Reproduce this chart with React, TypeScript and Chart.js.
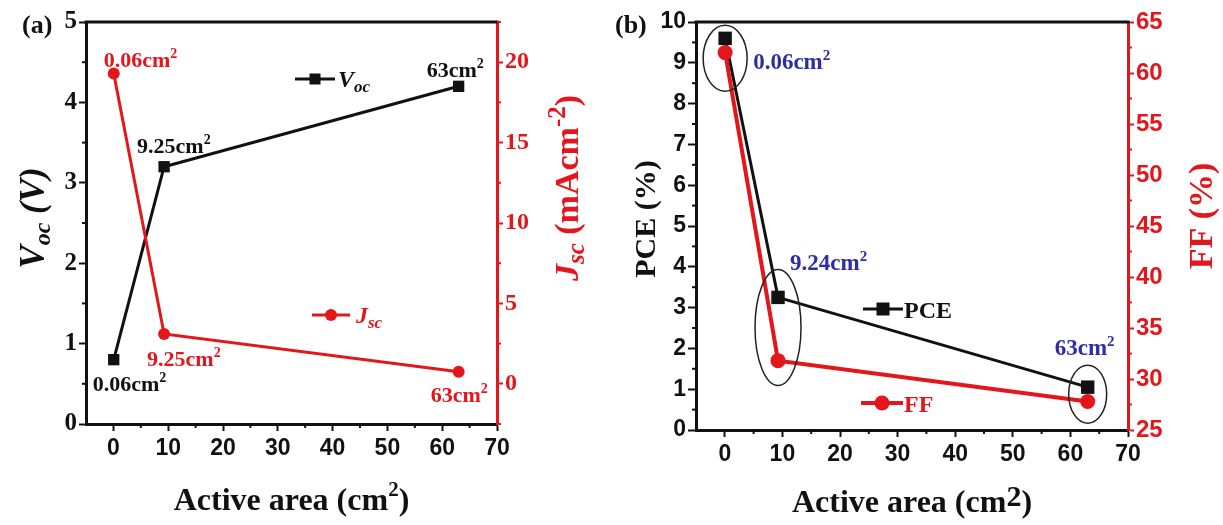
import React, { useEffect, useRef } from "react";
import { Chart, registerables } from "chart.js";
Chart.register(...registerables);

// ---------- data ----------
const areaA = [0.06, 9.25, 63];
const vocValues = [0.8, 3.2, 4.2];
const jscValues = [19.3, 3.1, 0.75];
const areaLabelsA = ["0.06", "9.25", "63"];

const areaB = [0.06, 9.24, 63];
const pceValues = [9.6, 3.25, 1.05];
const ffValues = [62, 31.8, 27.8];
const areaLabelsB = ["0.06", "9.24", "63"];

const xTickValues = [0, 10, 20, 30, 40, 50, 60, 70];
const xMinorValues = [5, 15, 25, 35, 45, 55, 65];
const vocTicks = [0, 1, 2, 3, 4, 5];
const vocMinor = [0.5, 1.5, 2.5, 3.5, 4.5];
const jscTicks = [0, 5, 10, 15, 20];
const jscMinor = [-2.5, 2.5, 7.5, 12.5, 17.5, 22.5];
const pceTicks = [0, 1, 2, 3, 4, 5, 6, 7, 8, 9, 10];
const pceMinor = [0.5, 1.5, 2.5, 3.5, 4.5, 5.5, 6.5, 7.5, 8.5, 9.5];
const ffTicks = [25, 30, 35, 40, 45, 50, 55, 60, 65];
const ffMinor = [27.5, 32.5, 37.5, 42.5, 47.5, 52.5, 57.5, 62.5];

// ---------- styles ----------
const BLACK = "#111111";
const RED = "#e3161c";
const BLUE = "#2d2da8";
const SERIF = '"Liberation Serif", "Times New Roman", serif';
const SANS = '"Liberation Sans", Arial, sans-serif';

type Seg = { t: string; size: number; style?: string; weight?: string; dy?: number; family?: string };

function drawRich(ctx: CanvasRenderingContext2D, segs: Seg[], x: number, y: number, align: string, color: string, rot = 0) {
  ctx.save();
  ctx.translate(x, y);
  if (rot) ctx.rotate(rot);
  ctx.fillStyle = color;
  ctx.textBaseline = "alphabetic";
  ctx.textAlign = "left";
  const fonts = segs.map((s) => `${s.style || "normal"} ${s.weight || "bold"} ${s.size}px ${s.family || SERIF}`);
  let total = 0;
  const widths = segs.map((s, i) => {
    ctx.font = fonts[i];
    const w = ctx.measureText(s.t).width;
    total += w;
    return w;
  });
  let cx = align === "left" ? 0 : align === "center" ? -total / 2 : -total;
  segs.forEach((s, i) => {
    ctx.font = fonts[i];
    ctx.fillText(s.t, cx, s.dy || 0);
    cx += widths[i];
  });
  ctx.restore();
}

function seg(ctx: CanvasRenderingContext2D, x1: number, y1: number, x2: number, y2: number, color: string, w: number) {
  ctx.save();
  ctx.strokeStyle = color;
  ctx.lineWidth = w;
  ctx.beginPath();
  ctx.moveTo(x1, y1);
  ctx.lineTo(x2, y2);
  ctx.stroke();
  ctx.restore();
}

function marker(ctx: CanvasRenderingContext2D, style: string, x: number, y: number, size: number, color: string) {
  ctx.save();
  ctx.fillStyle = color;
  if (style === "rect") {
    ctx.fillRect(x - size / 2, y - size / 2, size, size);
  } else {
    ctx.beginPath();
    ctx.arc(x, y, size / 2, 0, Math.PI * 2);
    ctx.fill();
  }
  ctx.restore();
}

function minor(ctx: CanvasRenderingContext2D, chart: any, id: string, values: number[], side: string, color: string) {
  const s = chart.scales[id];
  const a = chart.chartArea;
  values.forEach((v) => {
    const p = s.getPixelForValue(v);
    if (side === "bottom") seg(ctx, p, a.bottom, p, a.bottom + 4, color, 2);
    else if (side === "left") seg(ctx, a.left, p, a.left - 4, p, color, 2);
    else seg(ctx, a.right, p, a.right + 4, p, color, 2);
  });
}

function cm2(num: string, size: number, sup: number, raise: number): Seg[] {
  return [
    { t: num + "cm", size },
    { t: "2", size: sup, dy: -raise },
  ];
}

function xAxis(height: number) {
  return {
    type: "linear",
    min: -5,
    max: 70,
    afterBuildTicks: (s: any) => {
      s.ticks = xTickValues.map((v) => ({ value: v }));
    },
    afterFit: (s: any) => {
      s.height = height;
    },
    grid: { display: true, drawOnChartArea: false, drawTicks: true, tickLength: 7, tickWidth: 2, tickColor: BLACK },
    border: { display: true, color: BLACK, width: 3 },
    ticks: { color: BLACK, font: { family: SANS, size: 23, weight: "bold" }, padding: 4, maxRotation: 0, autoSkip: false },
  };
}

function yAxis(pos: string, min: number, max: number, ticks: number[], width: number, color: string, family: string, tickLen: number, size: number) {
  return {
    type: "linear",
    position: pos,
    min,
    max,
    afterBuildTicks: (s: any) => {
      s.ticks = ticks.map((v) => ({ value: v }));
    },
    afterFit: (s: any) => {
      s.width = width;
    },
    grid: { display: true, drawOnChartArea: false, drawTicks: true, tickLength: tickLen, tickWidth: 2, tickColor: color },
    border: { display: true, color, width: 3 },
    ticks: { color, font: { family, size, weight: "bold" }, padding: 2, autoSkip: false },
  };
}

function ChartA() {
  const ref = useRef<HTMLCanvasElement>(null);
  useEffect(() => {
    const plugin = {
      id: "decorA",
      afterDraw(chart: any) {
        const ctx = chart.ctx as CanvasRenderingContext2D;
        const a = chart.chartArea;
        const xs = chart.scales.x;
        const yv = chart.scales.y;
        const yj = chart.scales.y1;
        seg(ctx, a.left - 1.5, a.top, a.right + 1.5, a.top, BLACK, 3);
        minor(ctx, chart, "x", xMinorValues, "bottom", BLACK);
        minor(ctx, chart, "y", vocMinor, "left", BLACK);
        minor(ctx, chart, "y1", jscMinor, "right", RED);

        // (a)
        drawRich(ctx, [{ t: "(a)", size: 26 }], 22, 33, "left", BLACK);

        // axis titles
        drawRich(
          ctx,
          [
            { t: "V", size: 35, style: "italic" },
            { t: "oc", size: 24, style: "italic", dy: 6 },
            { t: " (V)", size: 35, style: "italic" },
          ],
          44,
          218,
          "center",
          BLACK,
          -Math.PI / 2
        );
        drawRich(
          ctx,
          [
            { t: "J", size: 34, style: "italic" },
            { t: "sc", size: 25, style: "italic", dy: 6 },
            { t: " (mAcm", size: 34 },
            { t: "-2", size: 25, dy: -13 },
            { t: ")", size: 34 },
          ],
          578,
          188,
          "center",
          RED,
          -Math.PI / 2
        );
        drawRich(
          ctx,
          [
            { t: "Active area (cm", size: 32 },
            { t: "2", size: 21, dy: -14 },
            { t: ")", size: 32 },
          ],
          (a.left + a.right) / 2,
          510,
          "center",
          BLACK
        );

        // point labels
        const P = (arr: number[], i: number, sc: any) => [xs.getPixelForValue(areaA[i]), sc.getPixelForValue(arr[i])];
        let [px, py] = P(jscValues, 0, yj);
        drawRich(ctx, cm2(areaLabelsA[0], 22, 14, 9), px - 10, py - 6, "left", RED);
        [px, py] = P(vocValues, 1, yv);
        drawRich(ctx, cm2(areaLabelsA[1], 22, 14, 9), px - 27, py - 14, "left", BLACK);
        [px, py] = P(vocValues, 2, yv);
        drawRich(ctx, cm2(areaLabelsA[2], 22, 14, 9), px - 32, py - 9, "left", BLACK);
        [px, py] = P(jscValues, 1, yj);
        drawRich(ctx, cm2(areaLabelsA[1], 22, 14, 9), px - 17, py + 32, "left", RED);
        [px, py] = P(vocValues, 0, yv);
        drawRich(ctx, cm2(areaLabelsA[0], 22, 14, 9), px - 21, py + 31, "left", BLACK);
        [px, py] = P(jscValues, 2, yj);
        drawRich(ctx, cm2(areaLabelsA[2], 22, 14, 9), px - 28, py + 30, "left", RED);

        // legends
        const lx1 = a.left + 209;
        const ly1 = a.top + 57;
        seg(ctx, lx1, ly1, lx1 + 40, ly1, BLACK, 3);
        marker(ctx, "rect", lx1 + 20, ly1, 11, BLACK);
        drawRich(
          ctx,
          [
            { t: "V", size: 24, style: "italic" },
            { t: "oc", size: 17, style: "italic", dy: 5 },
          ],
          lx1 + 43,
          ly1 + 8,
          "left",
          BLACK
        );
        const lx2 = a.left + 226;
        const ly2 = a.top + 293;
        seg(ctx, lx2, ly2, lx2 + 38, ly2, RED, 3);
        marker(ctx, "circle", lx2 + 19, ly2, 12, RED);
        drawRich(
          ctx,
          [
            { t: "J", size: 24, style: "italic" },
            { t: "sc", size: 17, style: "italic", dy: 5 },
          ],
          lx2 + 44,
          ly2 + 8,
          "left",
          RED
        );
      },
    };
    const chart = new Chart(ref.current as HTMLCanvasElement, {
      type: "line",
      data: {
        datasets: [
          {
            label: "Jsc",
            yAxisID: "y1",
            data: areaA.map((x, i) => ({ x, y: jscValues[i] })),
            borderColor: RED,
            backgroundColor: RED,
            borderWidth: 3,
            pointStyle: "circle",
            pointRadius: 6,
            pointBorderWidth: 0,
            clip: false,
            order: 0,
          },
          {
            label: "Voc",
            yAxisID: "y",
            data: areaA.map((x, i) => ({ x, y: vocValues[i] })),
            borderColor: BLACK,
            backgroundColor: BLACK,
            borderWidth: 3,
            pointStyle: "rect",
            pointRadius: 8,
            pointBorderWidth: 0,
            clip: false,
            order: 1,
          },
        ],
      } as any,
      options: {
        animation: false,
        responsive: false,
        devicePixelRatio: 1,
        layout: { padding: { top: 22, left: 0, right: 0, bottom: 0 } },
        plugins: { legend: { display: false }, tooltip: { enabled: false } },
        scales: {
          x: xAxis(101),
          y: yAxis("left", 0, 5, vocTicks, 86, BLACK, SERIF, 7, 25),
          y1: yAxis("right", -2.5, 22.5, jscTicks, 115, RED, SERIF, 6, 24),
        } as any,
      },
      plugins: [plugin],
    } as any);
    return () => chart.destroy();
  }, []);
  return <canvas ref={ref} width={612} height={525} style={{ position: "absolute", left: 0, top: 0 }} />;
}

function ChartB() {
  const ref = useRef<HTMLCanvasElement>(null);
  useEffect(() => {
    const plugin = {
      id: "decorB",
      afterDraw(chart: any) {
        const ctx = chart.ctx as CanvasRenderingContext2D;
        const a = chart.chartArea;
        const xs = chart.scales.x;
        const yp = chart.scales.y;
        seg(ctx, a.left - 1.5, a.top, a.right + 1.5, a.top, BLACK, 3);
        minor(ctx, chart, "x", xMinorValues, "bottom", BLACK);
        minor(ctx, chart, "y", pceMinor, "left", BLACK);
        minor(ctx, chart, "y1", ffMinor, "right", RED);

        drawRich(ctx, [{ t: "(b)", size: 26 }], 3, 33, "left", BLACK);

        drawRich(ctx, [{ t: "PCE (%)", size: 30 }], 43, 219, "center", BLACK, -Math.PI / 2);
        drawRich(ctx, [{ t: "FF (%)", size: 34 }], 600, 216, "center", RED, -Math.PI / 2);
        drawRich(
          ctx,
          [
            { t: "Active area (cm", size: 32 },
            { t: "2", size: 30, dy: -6 },
            { t: ")", size: 32 },
          ],
          (a.left + a.right) / 2,
          512,
          "center",
          BLACK
        );

        const P = (i: number) => [xs.getPixelForValue(areaB[i]), yp.getPixelForValue(pceValues[i])];
        // ellipses
        const ell = [
          { i: 0, dy: 20, rx: 22, ry: 33 },
          { i: 1, dy: 30, rx: 23, ry: 58 },
          { i: 2, dy: 7, rx: 19, ry: 29 },
        ];
        ell.forEach((e) => {
          const [px, py] = P(e.i);
          ctx.save();
          ctx.strokeStyle = "#222";
          ctx.lineWidth = 1.5;
          ctx.beginPath();
          ctx.ellipse(px, py + e.dy, e.rx, e.ry, 0, 0, Math.PI * 2);
          ctx.stroke();
          ctx.restore();
        });
        let [px, py] = P(0);
        drawRich(ctx, cm2(areaLabelsB[0], 23, 15, 9), px + 28, py + 31, "left", BLUE);
        [px, py] = P(1);
        drawRich(ctx, cm2(areaLabelsB[1], 23, 15, 9), px + 12, py - 27, "left", BLUE);
        [px, py] = P(2);
        drawRich(ctx, cm2(areaLabelsB[2], 23, 15, 9), px - 33, py - 32, "left", BLUE);

        // legends
        const lx1 = a.left + 167;
        const ly1 = a.top + 287;
        seg(ctx, lx1, ly1, lx1 + 40, ly1, BLACK, 3);
        marker(ctx, "rect", lx1 + 20, ly1, 13, BLACK);
        drawRich(ctx, [{ t: "PCE", size: 24 }], lx1 + 41, ly1 + 9, "left", BLACK);
        const lx2 = a.left + 165;
        const ly2 = a.top + 381;
        seg(ctx, lx2, ly2, lx2 + 42, ly2, RED, 4);
        marker(ctx, "circle", lx2 + 21, ly2, 15, RED);
        drawRich(ctx, [{ t: "FF", size: 24 }], lx2 + 43, ly2 + 9, "left", RED);
      },
    };
    const chart = new Chart(ref.current as HTMLCanvasElement, {
      type: "line",
      data: {
        datasets: [
          {
            label: "FF",
            yAxisID: "y1",
            data: areaB.map((x, i) => ({ x, y: ffValues[i] })),
            borderColor: RED,
            backgroundColor: RED,
            borderWidth: 4,
            pointStyle: "circle",
            pointRadius: 7.5,
            pointBorderWidth: 0,
            clip: false,
            order: 0,
          },
          {
            label: "PCE",
            yAxisID: "y",
            data: areaB.map((x, i) => ({ x, y: pceValues[i] })),
            borderColor: BLACK,
            backgroundColor: BLACK,
            borderWidth: 3,
            pointStyle: "rect",
            pointRadius: 9.5,
            pointBorderWidth: 0,
            clip: false,
            order: 1,
          },
        ],
      } as any,
      options: {
        animation: false,
        responsive: false,
        devicePixelRatio: 1,
        layout: { padding: { top: 22, left: 0, right: 0, bottom: 0 } },
        plugins: { legend: { display: false }, tooltip: { enabled: false } },
        scales: {
          x: xAxis(95),
          y: yAxis("left", 0, 10, pceTicks, 84, BLACK, SANS, 8, 23),
          y1: yAxis("right", 25, 65, ffTicks, 95, RED, SANS, 6, 24),
        } as any,
      },
      plugins: [plugin],
    } as any);
    return () => chart.destroy();
  }, []);
  return <canvas ref={ref} width={611} height={525} style={{ position: "absolute", left: 612, top: 0 }} />;
}

export default function App() {
  useEffect(() => {
    document.body.style.margin = "0";
    document.body.style.overflow = "hidden";
    document.body.style.background = "#ffffff";
  }, []);
  return (
    <div style={{ position: "absolute", left: 0, top: 0, width: 1223, height: 525, background: "#fff", overflow: "hidden" }}>
      <ChartA />
      <ChartB />
    </div>
  );
}
